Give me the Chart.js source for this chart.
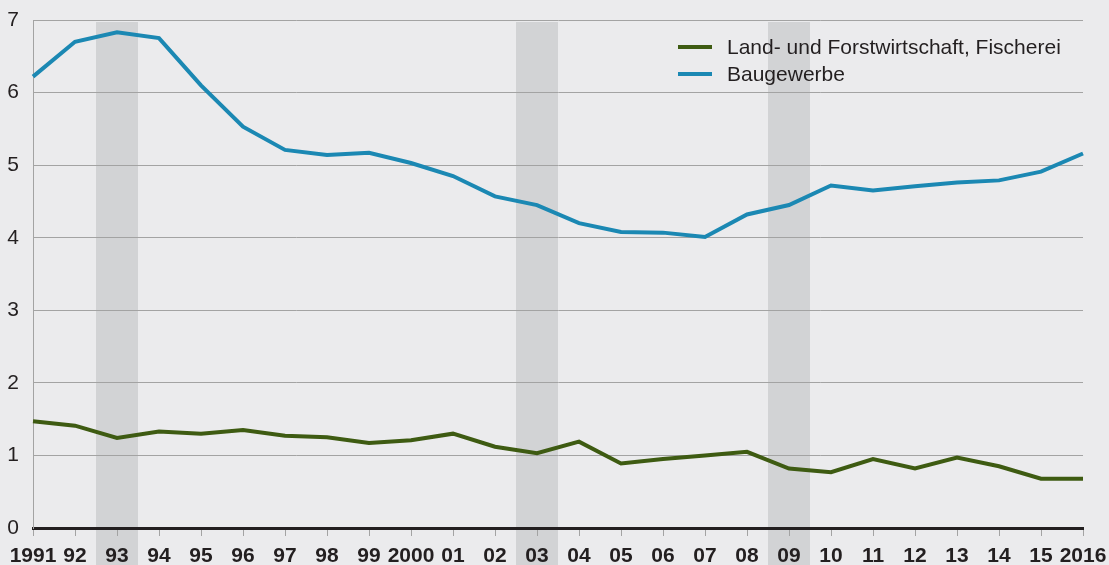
<!DOCTYPE html>
<html lang="de">
<head>
<meta charset="utf-8">
<title>Land- und Forstwirtschaft, Baugewerbe</title>
<script src="https://cdn.jsdelivr.net/npm/chart.js@4/dist/chart.umd.min.js"></script>
<style>
  html, body { margin: 0; padding: 0; background: #ebebed; }
  #wrap { position: relative; width: 1109px; height: 565px; }
  #legend { position: absolute; left: 678px; top: 33px; font: 21px "Liberation Sans", Arial, sans-serif; color: #231f20; }
  #legend .item { display: flex; align-items: center; height: 27px; }
  #legend .swatch { width: 34px; height: 4px; margin-right: 15px; }
</style>
</head>
<body>
<div id="wrap">
  <canvas id="chart"></canvas>
  <div id="legend"></div>
</div>
<script>
// year labels on the x axis
const years = ['1991', '92', '93', '94', '95', '96', '97', '98', '99', '2000',
  '01', '02', '03', '04', '05', '06', '07', '08', '09', '10',
  '11', '12', '13', '14', '15', '2016'];

// Land- und Forstwirtschaft, Fischerei
const landForst = [1.47, 1.41, 1.24, 1.33, 1.30, 1.35, 1.27, 1.25, 1.17, 1.21,
  1.30, 1.12, 1.03, 1.19, 0.89, 0.95, 1.00, 1.05, 0.82, 0.77,
  0.95, 0.82, 0.97, 0.85, 0.68, 0.68];

// Baugewerbe
const baugewerbe = [6.22, 6.70, 6.83, 6.75, 6.10, 5.53, 5.21, 5.14, 5.17, 5.03,
  4.85, 4.57, 4.45, 4.20, 4.08, 4.07, 4.01, 4.32, 4.45, 4.72,
  4.65, 4.71, 4.76, 4.79, 4.91, 5.16];

// shaded years
const shadedYears = ['93', '03', '09'];

const seriesNames = ['Land- und Forstwirtschaft, Fischerei', 'Baugewerbe'];
const seriesColors = ['#3e5b12', '#1b88b3'];

const fontFamily = '"Liberation Sans", Arial, sans-serif';
const textColor = '#231f20';
const gridColor = '#a3a3a3';

// background and grey year bands, drawn under everything else
const bandsPlugin = {
  id: 'bands',
  beforeDraw(chart) {
    const { ctx, chartArea, scales: { x } } = chart;
    ctx.save();
    ctx.fillStyle = '#ebebed';
    ctx.fillRect(0, 0, chart.width, chart.height);
    const step = x.getPixelForValue(1) - x.getPixelForValue(0);
    ctx.fillStyle = '#d2d3d5';
    shadedYears.forEach(label => {
      const px = x.getPixelForValue(years.indexOf(label));
      ctx.fillRect(px - step / 2, chartArea.top + 2, step, chart.height - chartArea.top - 2);
    });
    ctx.restore();
  }
};

const ctx = document.getElementById('chart').getContext('2d');
new Chart(ctx, {
  type: 'line',
  data: {
    labels: years,
    datasets: [
      { label: seriesNames[0], data: landForst, borderColor: seriesColors[0] },
      { label: seriesNames[1], data: baugewerbe, borderColor: seriesColors[1] }
    ]
  },
  options: {
    responsive: true,
    maintainAspectRatio: false,
    animation: false,
    layout: { padding: { top: 20, right: 26, left: 0, bottom: 0 } },
    elements: {
      line: { borderWidth: 4, tension: 0, fill: false, borderJoinStyle: 'miter' },
      point: { radius: 0, hoverRadius: 0 }
    },
    plugins: {
      legend: { display: false },
      tooltip: { enabled: false }
    },
    scales: {
      x: {
        type: 'category',
        offset: false,
        grid: { drawOnChartArea: false, drawTicks: true, tickLength: 8, color: gridColor, lineWidth: 1 },
        border: { display: true, color: textColor, width: 3 },
        ticks: {
          color: textColor,
          font: { family: fontFamily, size: 21, weight: 'bold' },
          maxRotation: 0,
          autoSkip: false,
          padding: 8
        },
        afterFit(scale) {
          scale.height = 37;
          scale.paddingLeft = 0;
          scale.paddingRight = 0;
        }
      },
      y: {
        min: 0,
        max: 7,
        grid: {
          color: c => (c.tick && c.tick.value === 0) ? 'rgba(0,0,0,0)' : gridColor,
          lineWidth: 1,
          drawTicks: false
        },
        border: { display: true, color: gridColor, width: 1 },
        ticks: {
          stepSize: 1,
          color: textColor,
          font: { family: fontFamily, size: 21 },
          padding: 14
        },
        afterFit(scale) {
          scale.width = 33;
          scale.paddingTop = 0;
          scale.paddingBottom = 0;
        }
      }
    }
  },
  plugins: [bandsPlugin]
});

// legend as html on top of the chart
const legend = document.getElementById('legend');
seriesNames.forEach((name, i) => {
  const item = document.createElement('div');
  item.className = 'item';
  const sw = document.createElement('span');
  sw.className = 'swatch';
  sw.style.background = seriesColors[i];
  const txt = document.createElement('span');
  txt.textContent = name;
  item.appendChild(sw);
  item.appendChild(txt);
  legend.appendChild(item);
});
</script>
</body>
</html>
